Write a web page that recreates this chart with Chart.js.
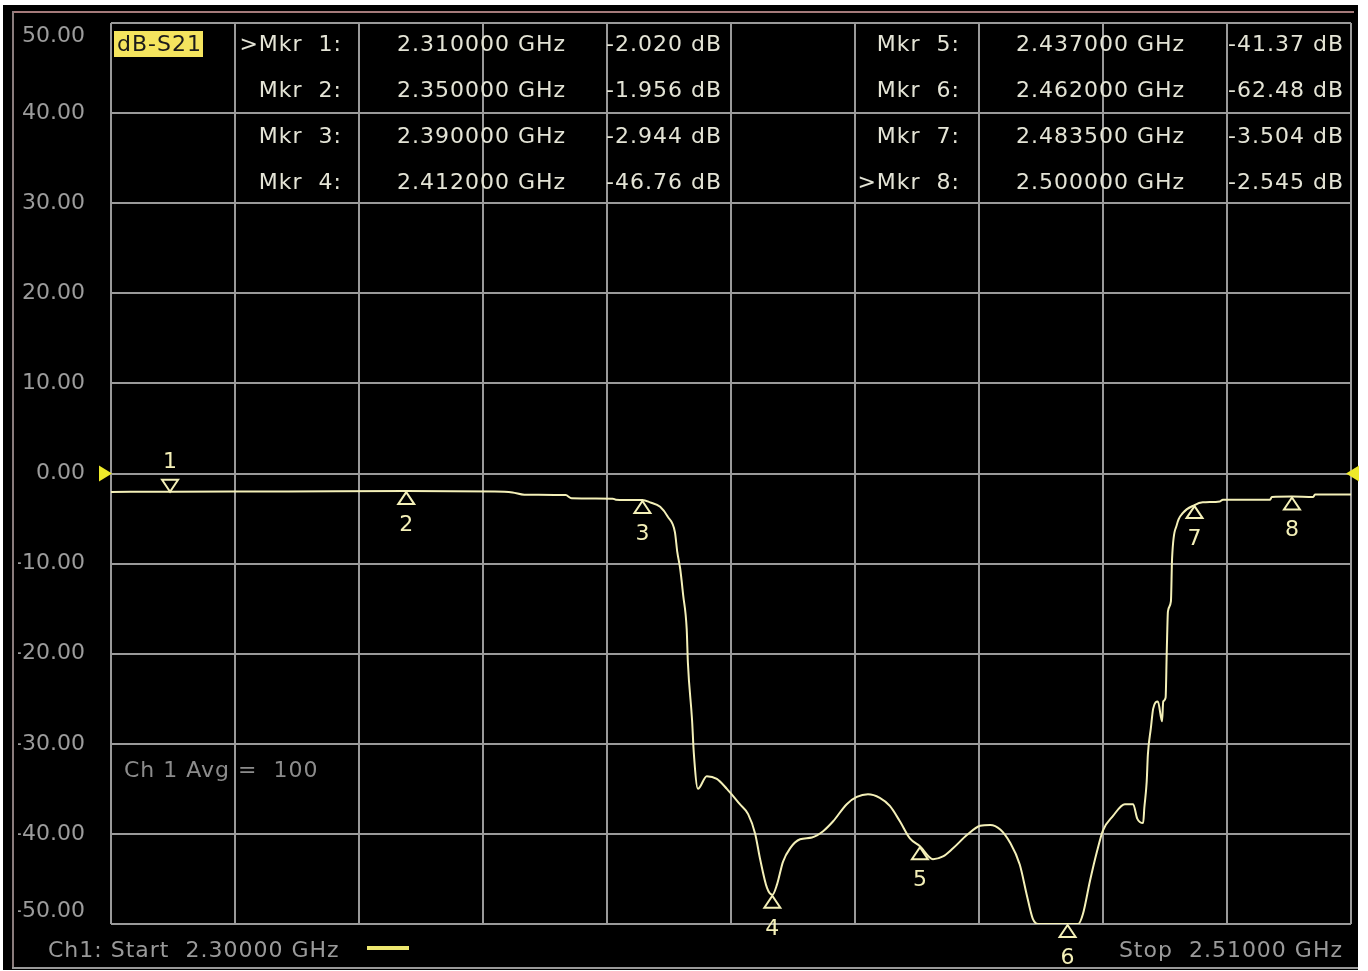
<!DOCTYPE html>
<html>
<head>
<meta charset="utf-8">
<title>dB-S21</title>
<script src="https://cdn.jsdelivr.net/npm/chart.js@4.4.1/dist/chart.umd.min.js"></script>
<style>
  html, body { margin: 0; padding: 0; background: #ffffff; }
  #wrap { position: absolute; left: 0; top: 0; width: 1368px; height: 971px; }
  canvas { display: block; }
</style>
</head>
<body>
<div id="wrap"><canvas id="c" width="1368" height="971"></canvas></div>
<script>
// Sweep range (GHz) and vertical scale (dB)
const startFreq = 2.30;
const stopFreq = 2.51;
const yMin = -50;
const yMax = 50;
const refLevel = 0;

// Graticule: 10 horizontal and 10 vertical divisions
const xGridTicks = [2.300, 2.321, 2.342, 2.363, 2.384, 2.405, 2.426, 2.447, 2.468, 2.489, 2.510];
const yTicks = [50, 40, 30, 20, 10, 0, -10, -20, -30, -40, -50];

// Measured S21 trace
const traceFreqs = [
  2.3000, 2.3100, 2.3300, 2.3500, 2.3650, 2.3680, 2.3700, 2.3770, 2.3780, 2.3850,
  2.3855, 2.3890, 2.3900, 2.3913, 2.3930, 2.3943, 2.3955, 2.3959, 2.3964, 2.3969,
  2.3975, 2.3977, 2.3984, 2.3987, 2.3994, 2.4009, 2.4026, 2.4043, 2.4065, 2.4079,
  2.4091, 2.4099, 2.4111, 2.4120, 2.4128, 2.4138, 2.4150, 2.4167, 2.4187, 2.4206,
  2.4223, 2.4246, 2.4263, 2.4282, 2.4302, 2.4319, 2.4336, 2.4353, 2.4370, 2.4392,
  2.4409, 2.4426, 2.4450, 2.4472, 2.4489, 2.4506, 2.4522, 2.4539, 2.4551, 2.4561,
  2.4570, 2.4585, 2.4600, 2.4620, 2.4630, 2.4638, 2.4646, 2.4658, 2.4670, 2.4680,
  2.4697, 2.4717, 2.4731, 2.4738, 2.4748, 2.4750, 2.4754, 2.4756, 2.4761, 2.4765,
  2.4773, 2.4780, 2.4782, 2.4786, 2.4788, 2.4790, 2.4795, 2.4797, 2.4805, 2.4815,
  2.4835, 2.4849, 2.4878, 2.4883, 2.4963, 2.4966, 2.5000, 2.5036, 2.5039, 2.5100
];
const traceDb = [
  -2.05, -2.02, -2.00, -1.956, -1.99, -2.10, -2.35, -2.40, -2.75, -2.80,
  -2.90, -2.94, -2.944, -3.20, -3.70, -4.80, -6.50, -8.70, -10.6, -13.5,
  -17.3, -21.0, -27.3, -31.0, -35.0, -33.6, -33.9, -35.0, -36.7, -37.8,
  -40.0, -42.7, -46.0, -46.76, -45.6, -43.1, -41.6, -40.6, -40.4, -39.7,
  -38.6, -36.7, -35.9, -35.6, -36.0, -36.9, -38.6, -40.5, -41.37, -42.8,
  -42.5, -41.6, -40.1, -39.1, -39.0, -39.5, -40.9, -43.4, -46.8, -49.4,
  -51.0, -54.5, -58.0, -62.48, -57.0, -51.0, -48.9, -45.2, -41.9, -39.6,
  -38.0, -36.7, -36.7, -38.3, -38.8, -37.1, -34.2, -31.2, -28.3, -26.1,
  -25.3, -27.5, -25.3, -24.9, -19.7, -15.3, -14.2, -9.4, -5.7, -4.4,
  -3.504, -3.2, -3.1, -2.9, -2.9, -2.6, -2.545, -2.6, -2.33, -2.33
];

// Markers
const markerIds = [1, 2, 3, 4, 5, 6, 7, 8];
const markerFreqs = [2.310, 2.350, 2.390, 2.412, 2.437, 2.462, 2.4835, 2.500];
const markerDb = [-2.020, -1.956, -2.944, -46.76, -41.37, -62.48, -3.504, -2.545];
const activeMarkers = [1, 8];
const avgFactor = 100;

const TRACE = '#f4f0b8';
const GRID = '#9a9a9a';
const FONT = 'DejaVu Sans, Verdana, sans-serif';

function fmtDb(v) {
  return (Math.abs(v) >= 10 ? v.toFixed(2) : v.toFixed(3)) + ' dB';
}
function fmtGHz(f, d) { return f.toFixed(d) + ' GHz'; }

// the analyzer pins off-screen readings to the graticule edge
const clampDb = v => Math.min(Math.max(v, yMin), yMax);

// Screen frame, reference arrows, markers and annotation text
const analyzerOverlay = {
  id: 'analyzerOverlay',
  beforeDraw(chart) {
    const c = chart.ctx;
    c.save();
    c.fillStyle = '#ffffff';
    c.fillRect(0, 0, chart.width, chart.height);
    c.fillStyle = '#000000';
    c.fillRect(3, 5, 1355, 965);
    c.fillStyle = '#a47a7a';
    c.fillRect(12, 11, 1342, 2);
    c.fillStyle = '#8a7c7c';
    c.fillRect(12, 11, 2, 957);
    c.fillStyle = '#9a9a9a';
    c.fillRect(12, 967, 1346, 2);
    c.restore();
  },
  afterDatasetsDraw(chart) {
    const c = chart.ctx;
    const xs = chart.scales.x, ys = chart.scales.y;
    const area = chart.chartArea;
    c.save();

    // reference level arrows
    const yr = ys.getPixelForValue(refLevel);
    c.fillStyle = '#eeea2a';
    c.beginPath();
    c.moveTo(area.left + 1, yr); c.lineTo(area.left - 12, yr - 8); c.lineTo(area.left - 12, yr + 8);
    c.closePath(); c.fill();
    c.beginPath();
    c.moveTo(area.right - 5, yr); c.lineTo(area.right + 8, yr - 8); c.lineTo(area.right + 8, yr + 8);
    c.closePath(); c.fill();

    // markers
    c.strokeStyle = TRACE;
    c.fillStyle = TRACE;
    c.lineWidth = 2;
    c.font = '22px ' + FONT;
    c.textAlign = 'center';
    c.textBaseline = 'middle';
    markerIds.forEach((id, i) => {
      const x = xs.getPixelForValue(markerFreqs[i]);
      const y = ys.getPixelForValue(clampDb(markerDb[i]));
      c.beginPath();
      if (i === 0) {
        c.moveTo(x, y); c.lineTo(x - 8, y - 12); c.lineTo(x + 8, y - 12);
        c.closePath(); c.stroke();
        c.fillText(String(id), x, y - 29);
      } else {
        c.moveTo(x, y + 1); c.lineTo(x - 8, y + 13); c.lineTo(x + 8, y + 13);
        c.closePath(); c.stroke();
        c.fillText(String(id), x, y + 34);
      }
    });

    c.letterSpacing = '1px';

    // trace title box
    c.fillStyle = '#f4e45e';
    c.fillRect(114, 31, 89, 26);
    c.fillStyle = '#1a1a1a';
    c.textAlign = 'left';
    c.fillText('dB-S21', 117, 45);

    // marker readout
    const rowsY = [45, 91, 137, 183];
    c.fillStyle = '#e4e4d6';
    markerIds.forEach((id, i) => {
      const col = i < 4 ? 0 : 1;
      const y = rowsY[i % 4];
      const lblRight = col === 0 ? 342 : 960;
      const freqLeft = col === 0 ? 397 : 1016;
      const valLeft = col === 0 ? 606 : 1228;
      c.textAlign = 'right';
      const lbl = (activeMarkers.includes(id) ? '>' : '') + 'Mkr  ' + id + ':';
      c.fillText(lbl, lblRight, y);
      c.textAlign = 'left';
      c.fillText(fmtGHz(markerFreqs[i], 6), freqLeft, y);
      c.fillText(fmtDb(markerDb[i]), valLeft, y);
    });

    // averaging annotation
    c.fillStyle = '#8c8c8c';
    c.textAlign = 'left';
    c.fillText('Ch 1 Avg =  ' + avgFactor, 124, 771);

    // start / stop line
    c.fillStyle = '#9a9a9a';
    c.fillText('Ch1: Start  ' + fmtGHz(startFreq, 5), 48, 951);
    c.textAlign = 'right';
    c.fillText('Stop  ' + fmtGHz(stopFreq, 5), 1343, 951);
    c.fillStyle = '#eee870';
    c.fillRect(367, 946, 42, 4);

    c.restore();
  }
};

new Chart(document.getElementById('c'), {
  type: 'line',
  data: {
    datasets: [{
      label: 'S21',
      data: traceFreqs.map((f, i) => ({ x: f, y: clampDb(traceDb[i]) })),
      borderColor: TRACE,
      borderWidth: 2,
      pointRadius: 0,
      cubicInterpolationMode: 'monotone',
      fill: false
    }]
  },
  options: {
    responsive: false,
    animation: false,
    layout: { padding: { left: 18, top: 23, right: 17, bottom: 47 } },
    plugins: { legend: { display: false }, tooltip: { enabled: false } },
    scales: {
      x: {
        type: 'linear',
        min: startFreq,
        max: stopFreq,
        afterBuildTicks: s => { s.ticks = xGridTicks.map(v => ({ value: v })); },
        afterFit: s => { s.height = 0; s.paddingLeft = 0; s.paddingRight = 0; },
        ticks: { display: false },
        grid: { color: GRID, lineWidth: 2, drawTicks: false },
        border: { display: false }
      },
      y: {
        min: yMin,
        max: yMax,
        afterBuildTicks: s => { s.ticks = yTicks.map(v => ({ value: v })); },
        afterFit: s => { s.width = 93; s.paddingTop = 0; s.paddingBottom = 0; },
        ticks: {
          // top and bottom labels sit just inside the graticule
          callback: v => {
            const t = Number(v).toFixed(2);
            if (v === yMax) return ['', t];
            if (v === yMin) return [t, ''];
            return t;
          },
          color: '#9c9c9c',
          font: { family: FONT, size: 22 },
          padding: 26,
          crossAlign: 'near'
        },
        grid: { color: GRID, lineWidth: 2, drawTicks: false },
        border: { display: false }
      }
    }
  },
  plugins: [analyzerOverlay]
});
</script>
</body>
</html>
